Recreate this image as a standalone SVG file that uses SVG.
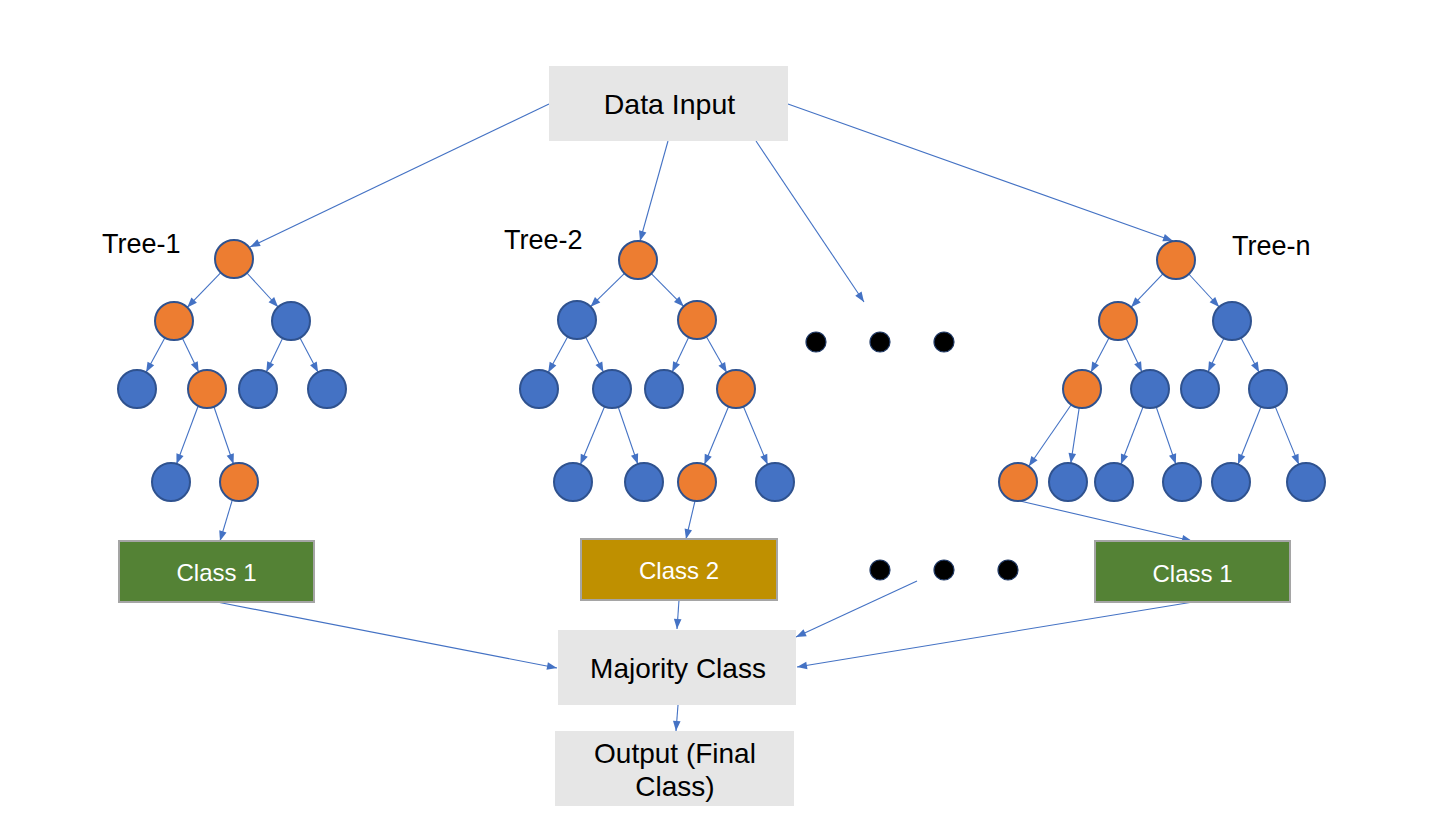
<svg xmlns="http://www.w3.org/2000/svg" width="1446" height="816" viewBox="0 0 1446 816">
<defs>
<marker id="arr" markerUnits="userSpaceOnUse" markerWidth="12" markerHeight="10" viewBox="0 -5 12 10" refX="10" refY="0" orient="auto" overflow="visible">
<path d="M0,-3.8 L10,0 L0,3.8 z" fill="#4472c4"/>
</marker>
</defs>
<style>
.bg{fill:#ffffff}
.gbox{fill:#e6e6e6}
.t{font-family:"Liberation Sans",Arial,sans-serif;fill:#000}
.big{font-size:28px}
.lbl{font-size:27px}
.cls{font-family:"Liberation Sans",Arial,sans-serif;font-size:24px;fill:#ffffff}
.o{fill:#ed7d31;stroke:#2f528f;stroke-width:2}
.b{fill:#4472c4;stroke:#2f528f;stroke-width:2}
.dot{fill:#000;stroke:#1f3864;stroke-width:1.2}
.e{stroke:#4472c4;stroke-width:1.1;fill:none;marker-end:url(#arr)}
.green{fill:#548235;stroke:#a5a5a5;stroke-width:2}
.gold{fill:#bf9000;stroke:#a5a5a5;stroke-width:2}
</style>
<rect class="bg" x="0" y="0" width="1446" height="816"/>

<g id="connectors">
<!-- from Data Input -->
<line class="e" x1="549" y1="104" x2="250" y2="247"/>
<line class="e" x1="668" y1="141" x2="640" y2="241"/>
<line class="e" x1="756" y1="141" x2="864" y2="302"/>
<line class="e" x1="788" y1="104" x2="1173" y2="241"/>
<!-- tree 1 -->
<line class="e" x1="220.8" y1="272.6" x2="187.2" y2="307.4"/>
<line class="e" x1="246.9" y1="273" x2="278.1" y2="307"/>
<line class="e" x1="164.9" y1="337.7" x2="146.1" y2="372.3"/>
<line class="e" x1="182.3" y1="338.1" x2="198.7" y2="371.9"/>
<line class="e" x1="282.7" y1="338.1" x2="266.3" y2="371.9"/>
<line class="e" x1="299.9" y1="337.8" x2="318.1" y2="372.2"/>
<line class="e" x1="198" y1="406.5" x2="176.5" y2="464"/>
<line class="e" x1="214" y1="407" x2="233.5" y2="464"/>
<line class="e" x1="232" y1="501" x2="220" y2="541"/>
<!-- tree 2 -->
<line class="e" x1="624.5" y1="273.3" x2="590.5" y2="306.7"/>
<line class="e" x1="651.3" y1="273.6" x2="683.7" y2="306.4"/>
<line class="e" x1="567.8" y1="336.6" x2="548.2" y2="372.4"/>
<line class="e" x1="585.6" y1="336.9" x2="603.4" y2="372.1"/>
<line class="e" x1="688.8" y1="337.1" x2="672.2" y2="371.9"/>
<line class="e" x1="706.3" y1="336.5" x2="726.7" y2="372.5"/>
<line class="e" x1="604.6" y1="406.5" x2="580.4" y2="464.5"/>
<line class="e" x1="618.2" y1="407" x2="637.8" y2="464"/>
<line class="e" x1="728.6" y1="406.5" x2="704.4" y2="464.5"/>
<line class="e" x1="743.4" y1="406.5" x2="767.6" y2="464.5"/>
<line class="e" x1="695" y1="501" x2="686" y2="539"/>
<!-- tree n -->
<line class="e" x1="1162.9" y1="273.8" x2="1131.1" y2="307.2"/>
<line class="e" x1="1188.8" y1="274" x2="1219.2" y2="307"/>
<line class="e" x1="1109.1" y1="337.8" x2="1090.9" y2="372.2"/>
<line class="e" x1="1126.1" y1="338.2" x2="1141.9" y2="371.8"/>
<line class="e" x1="1223.9" y1="338.2" x2="1208.1" y2="371.8"/>
<line class="e" x1="1240.9" y1="337.8" x2="1259.1" y2="372.2"/>
<line class="e" x1="1071.2" y1="404.7" x2="1028.8" y2="466.3"/>
<line class="e" x1="1079.2" y1="407.8" x2="1070.8" y2="463.2"/>
<line class="e" x1="1143.1" y1="406.7" x2="1120.9" y2="464.3"/>
<line class="e" x1="1156.2" y1="407" x2="1175.8" y2="464"/>
<line class="e" x1="1261" y1="406.7" x2="1238" y2="464.3"/>
<line class="e" x1="1275.2" y1="406.6" x2="1298.8" y2="464.4"/>
<line class="e" x1="1020" y1="501" x2="1192" y2="541"/>
<!-- to majority -->
<line class="e" x1="217" y1="602" x2="557" y2="668"/>
<line class="e" x1="679" y1="600" x2="677" y2="629"/>
<line class="e" x1="917" y1="581" x2="796" y2="637"/>
<line class="e" x1="1193" y1="602" x2="797" y2="667"/>
<line class="e" x1="678" y1="705" x2="676" y2="731"/>
</g>

<g id="data-input">
<rect class="gbox" x="549" y="66" width="239" height="75"/>
<text class="t" style="font-size:28.5px" x="669.5" y="114" text-anchor="middle">Data Input</text>
</g>

<g id="tree-1">
<text class="t lbl" x="102" y="253">Tree-1</text>
<circle class="o" cx="234" cy="259" r="19"/>
<circle class="o" cx="174" cy="321" r="19"/>
<circle class="b" cx="291" cy="321" r="19"/>
<circle class="b" cx="137" cy="389" r="19"/>
<circle class="o" cx="207" cy="389" r="19"/>
<circle class="b" cx="258" cy="389" r="19"/>
<circle class="b" cx="327" cy="389" r="19"/>
<circle class="b" cx="171" cy="482" r="19"/>
<circle class="o" cx="239" cy="482" r="19"/>
</g>

<g id="tree-2">
<text class="t lbl" x="504" y="249">Tree-2</text>
<circle class="o" cx="638" cy="260" r="19"/>
<circle class="b" cx="577" cy="320" r="19"/>
<circle class="o" cx="697" cy="320" r="19"/>
<circle class="b" cx="539" cy="389" r="19"/>
<circle class="b" cx="612" cy="389" r="19"/>
<circle class="b" cx="664" cy="389" r="19"/>
<circle class="o" cx="736" cy="389" r="19"/>
<circle class="b" cx="573" cy="482" r="19"/>
<circle class="b" cx="644" cy="482" r="19"/>
<circle class="o" cx="697" cy="482" r="19"/>
<circle class="b" cx="775" cy="482" r="19"/>
</g>

<g id="tree-n">
<text class="t lbl" x="1232" y="255">Tree-n</text>
<circle class="o" cx="1176" cy="260" r="19"/>
<circle class="o" cx="1118" cy="321" r="19"/>
<circle class="b" cx="1232" cy="321" r="19"/>
<circle class="o" cx="1082" cy="389" r="19"/>
<circle class="b" cx="1150" cy="389" r="19"/>
<circle class="b" cx="1200" cy="389" r="19"/>
<circle class="b" cx="1268" cy="389" r="19"/>
<circle class="o" cx="1018" cy="482" r="19"/>
<circle class="b" cx="1068" cy="482" r="19"/>
<circle class="b" cx="1114" cy="482" r="19"/>
<circle class="b" cx="1182" cy="482" r="19"/>
<circle class="b" cx="1231" cy="482" r="19"/>
<circle class="b" cx="1306" cy="482" r="19"/>
</g>

<g id="dots-top">
<circle class="dot" cx="816" cy="342" r="10"/>
<circle class="dot" cx="880" cy="342" r="10"/>
<circle class="dot" cx="944" cy="342" r="10"/>
</g>
<g id="dots-bottom">
<circle class="dot" cx="880" cy="570" r="10"/>
<circle class="dot" cx="944" cy="570" r="10"/>
<circle class="dot" cx="1008" cy="570" r="10"/>
</g>

<g id="class-1-left">
<rect class="green" x="119" y="541" width="195" height="61"/>
<text class="cls" x="216.5" y="581" text-anchor="middle">Class 1</text>
</g>
<g id="class-2">
<rect class="gold" x="581" y="539" width="196" height="61"/>
<text class="cls" x="679" y="579" text-anchor="middle">Class 2</text>
</g>
<g id="class-1-right">
<rect class="green" x="1095" y="541" width="195" height="61"/>
<text class="cls" x="1192.5" y="582" text-anchor="middle">Class 1</text>
</g>

<g id="majority-class">
<rect class="gbox" x="558" y="630" width="238" height="75"/>
<text class="t big" x="678" y="678" text-anchor="middle">Majority Class</text>
</g>

<g id="output">
<rect class="gbox" x="555" y="731" width="239" height="75"/>
<text class="t big" x="675" y="763" text-anchor="middle">Output (Final</text>
<text class="t big" x="675" y="796" text-anchor="middle">Class)</text>
</g>
</svg>
